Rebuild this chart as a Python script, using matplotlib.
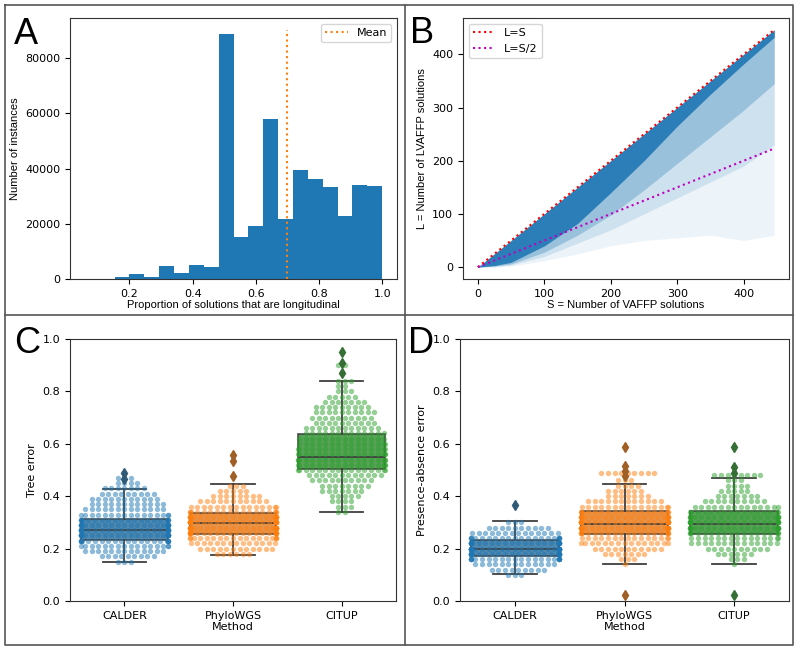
import numpy as np
import matplotlib.pyplot as plt
from matplotlib.lines import Line2D

# ---- panel A: histogram of proportion longitudinal ----
hist_lo, hist_hi = 0.0588, 1.0
hist_counts = [0, 0, 600, 1930, 720, 4590, 2050, 4950, 4220, 88570,
               15200, 19300, 57900, 21700, 39580, 36320, 33420, 22930, 34030, 33540]
mean_prop = 0.70
mean_line_top = 90000

# ---- panel B: L vs S scatter cloud (density bands) ----
s_max = 446
s_grid = [0, 25, 50, 100, 150, 200, 250, 300, 350, 400, 446]
dense_lo = [0, 3, 9, 40, 82, 140, 200, 265, 325, 382, 432]
mid_lo = [0, 2, 6, 28, 60, 98, 145, 195, 245, 295, 345]
light_lo = [0, 1, 4, 20, 45, 70, 100, 130, 160, 190, 230]
faint_lo = [0, 0, 2, 12, 25, 40, 50, 55, 60, 50, 60]

# ---- panels C/D: box stats + swarm rows ----
methods = ["CALDER", "PhyloWGS", "CITUP"]
colors = ["#1f77b4", "#ff7f0e", "#2ca02c"]
box_colors = ["#3274a1", "#e1812c", "#3a923a"]
flier_colors = ["#2f5b79", "#9f5f26", "#356f35"]

c_q1 = [0.234, 0.256, 0.502]
c_med = [0.271, 0.298, 0.550]
c_q3 = [0.314, 0.336, 0.636]
c_wlo = [0.147, 0.176, 0.340]
c_whi = [0.429, 0.447, 0.840]
c_fliers = [[0.466, 0.487], [0.476, 0.534, 0.559], [0.869, 0.907, 0.949]]

d_q1 = [0.173, 0.257, 0.257]
d_med = [0.199, 0.294, 0.294]
d_q3 = [0.234, 0.345, 0.345]
d_wlo = [0.102, 0.141, 0.141]
d_whi = [0.304, 0.447, 0.470]
d_fliers = [[0.368], [0.023, 0.476, 0.495, 0.515, 0.587], [0.023, 0.490, 0.511, 0.587]]

c_calder_vals = [0.15, 0.17, 0.19, 0.21, 0.23, 0.25, 0.27, 0.29, 0.31, 0.33, 0.35, 0.37, 0.39, 0.41, 0.43, 0.45, 0.47]
c_calder_counts = [3, 9, 13, 16, 22, 26, 28, 24, 20, 16, 13, 12, 11, 9, 7, 4, 3]
c_phylo_vals = [0.18, 0.20, 0.22, 0.24, 0.26, 0.28, 0.30, 0.32, 0.34, 0.36, 0.38, 0.40, 0.42, 0.44]
c_phylo_counts = [6, 12, 14, 18, 26, 30, 30, 26, 18, 15, 11, 8, 5, 3]
c_citup_vals = [0.34, 0.36, 0.38, 0.40, 0.42, 0.44, 0.46, 0.48, 0.50, 0.52, 0.54, 0.56, 0.58,
                0.60, 0.62, 0.64, 0.66, 0.68, 0.70, 0.72, 0.74, 0.76, 0.78, 0.80, 0.82, 0.84, 0.90]
c_citup_counts = [2, 3, 4, 5, 7, 8, 10, 12, 16, 17, 18, 17, 16, 15, 14, 13, 12, 10, 10, 10, 9, 7, 5, 3, 2, 3, 2]

d_calder_vals = [0.10, 0.12, 0.14, 0.16, 0.18, 0.20, 0.22, 0.24, 0.26, 0.28, 0.30]
d_calder_counts = [3, 9, 13, 22, 32, 34, 28, 20, 14, 10, 3]
d_phylo_vals = [0.14, 0.16, 0.18, 0.20, 0.22, 0.24, 0.26, 0.28, 0.30, 0.32, 0.34, 0.36, 0.38,
                0.40, 0.42, 0.44, 0.46, 0.49]
d_phylo_counts = [1, 3, 7, 11, 15, 15, 20, 26, 28, 22, 18, 15, 12, 7, 6, 4, 3, 9]
d_citup_vals = [0.14, 0.16, 0.18, 0.20, 0.22, 0.24, 0.26, 0.28, 0.30, 0.32, 0.34, 0.36, 0.38,
                0.40, 0.42, 0.44, 0.46, 0.48]
d_citup_counts = [1, 3, 6, 10, 14, 15, 18, 22, 24, 20, 16, 14, 10, 7, 5, 4, 3, 8]


def swarm_xy(vals, counts, center, d=0.06, half=0.4):
    # lay each row out side by side (odd rows shifted half a dot),
    # points that don't fit pile up at the edge like seaborn's gutter
    xs, ys = [], []
    for k, (v, n) in enumerate(zip(vals, counts)):
        offs = (np.arange(n) - (n - 1) / 2) * d + (k % 2) * d / 2
        offs = np.clip(offs, -half, half)
        xs.extend(center + offs)
        ys.extend([v] * n)
    return xs, ys


def box_panel(ax, q1, med, q3, wlo, whi, fliers, swarms, ylabel):
    for i in range(3):
        st = dict(q1=q1[i], med=med[i], q3=q3[i], whislo=wlo[i], whishi=whi[i], fliers=[])
        ax.bxp([st], positions=[i], widths=0.8, capwidths=0.4, patch_artist=True,
               showfliers=False,
               boxprops=dict(facecolor=box_colors[i], edgecolor="#3f3f3f", lw=1.3, alpha=0.85),
               medianprops=dict(color="#3f3f3f", lw=1.3),
               whiskerprops=dict(color="#3f3f3f", lw=1.3),
               capprops=dict(color="#3f3f3f", lw=1.3), zorder=2)
        ax.plot([i] * len(fliers[i]), fliers[i], "d", color=flier_colors[i], ms=5, zorder=4)
    for i, (vals, counts) in enumerate(swarms):
        xs, ys = swarm_xy(vals, counts, i)
        ax.scatter(xs, ys, s=15, color=colors[i], alpha=0.5, lw=0, zorder=3)
    ax.set_xlim(-0.5, 2.5)
    ax.set_ylim(0, 1.0)
    ax.set_xticks(range(3))
    ax.set_xticklabels(methods)
    ax.set_xlabel("Method", fontsize=8, labelpad=1)
    ax.set_ylabel(ylabel, fontsize=8)
    ax.tick_params(labelsize=8)


fig = plt.figure(figsize=(8, 6.5), dpi=100)

# A
axA = fig.add_axes([0.0875, 0.5708, 0.4088, 0.4015])
edges = np.linspace(hist_lo, hist_hi, len(hist_counts) + 1)
axA.hist(edges[:-1], bins=edges, weights=hist_counts, color="#1f77b4")
axA.vlines(mean_prop, 0, mean_line_top, colors="#ff7f0e", linestyles=":", lw=1.5, label="Mean")
axA.legend(loc="upper right", fontsize=8)
axA.set_xlabel("Proportion of solutions that are longitudinal", fontsize=8,
               family="Liberation Sans", labelpad=1)
axA.set_ylabel("Number of instances", fontsize=8, family="Liberation Sans")
axA.tick_params(labelsize=8)

# B
axB = fig.add_axes([0.5788, 0.5708, 0.4075, 0.4015])
axB.fill_between(s_grid, faint_lo, s_grid, color="#1f77b4", alpha=0.08, lw=0)
axB.fill_between(s_grid, light_lo, s_grid, color="#1f77b4", alpha=0.15, lw=0)
axB.fill_between(s_grid, mid_lo, s_grid, color="#1f77b4", alpha=0.3, lw=0)
axB.fill_between(s_grid, dense_lo, s_grid, color="#1f77b4", alpha=0.9, lw=0)
axB.plot([0, s_max], [0, s_max], "r:", lw=1.5, label="L=S")
axB.plot([0, s_max], [0, s_max / 2], "m:", lw=1.5, label="L=S/2")
axB.legend(loc="upper left", fontsize=8)
axB.set_xlabel("S = Number of VAFFP solutions", fontsize=8, family="Liberation Sans", labelpad=1)
axB.set_ylabel("L = Number of LVAFFP solutions", fontsize=8, family="Liberation Sans")
axB.set_xticks([0, 100, 200, 300, 400])
axB.set_yticks([0, 100, 200, 300, 400])
axB.tick_params(labelsize=8)

# C
axC = fig.add_axes([0.0875, 0.0754, 0.4075, 0.4031])
box_panel(axC, c_q1, c_med, c_q3, c_wlo, c_whi, c_fliers,
          [(c_calder_vals, c_calder_counts), (c_phylo_vals, c_phylo_counts), (c_citup_vals, c_citup_counts)],
          "Tree error")

# D
axD = fig.add_axes([0.575, 0.0754, 0.41125, 0.4031])
box_panel(axD, d_q1, d_med, d_q3, d_wlo, d_whi, d_fliers,
          [(d_calder_vals, d_calder_counts), (d_phylo_vals, d_phylo_counts), (d_citup_vals, d_citup_counts)],
          "Presence-absence error")

for ax in [axA, axB, axC, axD]:
    for sp in ax.spines.values():
        sp.set_color("#333333")
        sp.set_linewidth(0.8)

# panel letters
for lab, x, y in [("A", 14, 44), ("B", 410, 43), ("C", 14, 353), ("D", 408, 353)]:
    fig.text(x / 800, 1 - y / 650, lab, fontsize=26, family="Liberation Sans", va="baseline")

# frame and dividers
frame = dict(color="#555555", lw=1.2, transform=fig.transFigure)
fig.add_artist(Line2D([5 / 800, 793 / 800, 793 / 800, 5 / 800, 5 / 800],
                      [1 - 5 / 650, 1 - 5 / 650, 1 - 645 / 650, 1 - 645 / 650, 1 - 5 / 650], **frame))
fig.add_artist(Line2D([405 / 800, 405 / 800], [1 - 5 / 650, 1 - 645 / 650], **frame))
fig.add_artist(Line2D([5 / 800, 793 / 800], [1 - 315 / 650, 1 - 315 / 650], **frame))

fig.savefig("out.png", dpi=100)
